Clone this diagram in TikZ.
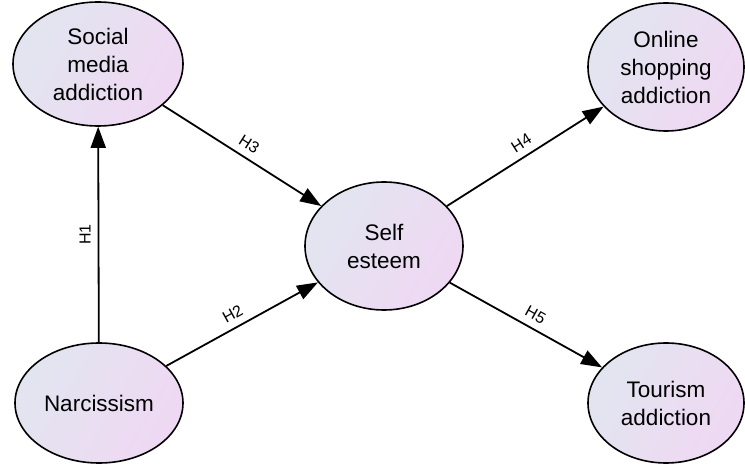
\documentclass[tikz,border=0pt]{standalone}
\usepackage{fontspec}
\setmainfont{Liberation Sans}
\usetikzlibrary{shapes.geometric, positioning, arrows.meta}

\definecolor{constleft}{HTML}{E2E5F0}
\definecolor{constright}{HTML}{EFD8F3}

\begin{document}
\begin{tikzpicture}[x=1pt, y=1pt, line width=1.8pt, >={Triangle[length=21pt, width=15pt]},
    construct/.style={ellipse, draw, line width=1.6pt, inner sep=0pt, align=center,
        left color=constleft, right color=constright, shading angle=60,
        font=\fontsize{22.5}{28}\selectfont},
    hyp/.style={sloped, above, font=\fontsize{16}{18}\selectfont, inner sep=7pt}]
    \useasboundingbox (0,0) rectangle (745,464);
    % Layout: constructs at the corners, mediator in the middle

    \node[construct, minimum width=170pt, minimum height=124pt] (sma) at (98,400) {Social\\media\\addiction};
    \node[construct, minimum width=168pt, minimum height=120pt] (nar) at (99,61) {Narcissism};
    \node[construct, minimum width=158pt, minimum height=128pt] (se) at (384,218) {Self\\esteem};
    \node[construct, minimum width=156pt, minimum height=128pt] (osa) at (666,397) {Online\\shopping\\addiction};
    \node[construct, minimum width=156pt, minimum height=120pt] (tou) at (666,61) {Tourism\\addiction};

    % Hypotheses
    \path[->]
        (nar) edge node[hyp, allow upside down] {H1} (sma)
              edge node[hyp, pos=0.48] {H2} (se)
        (sma) edge node[hyp, pos=0.5] {H3} (se)
        (se)  edge node[hyp, pos=0.52] {H4} (osa)
              edge node[hyp, pos=0.52] {H5} (tou);

\end{tikzpicture}
\end{document}
